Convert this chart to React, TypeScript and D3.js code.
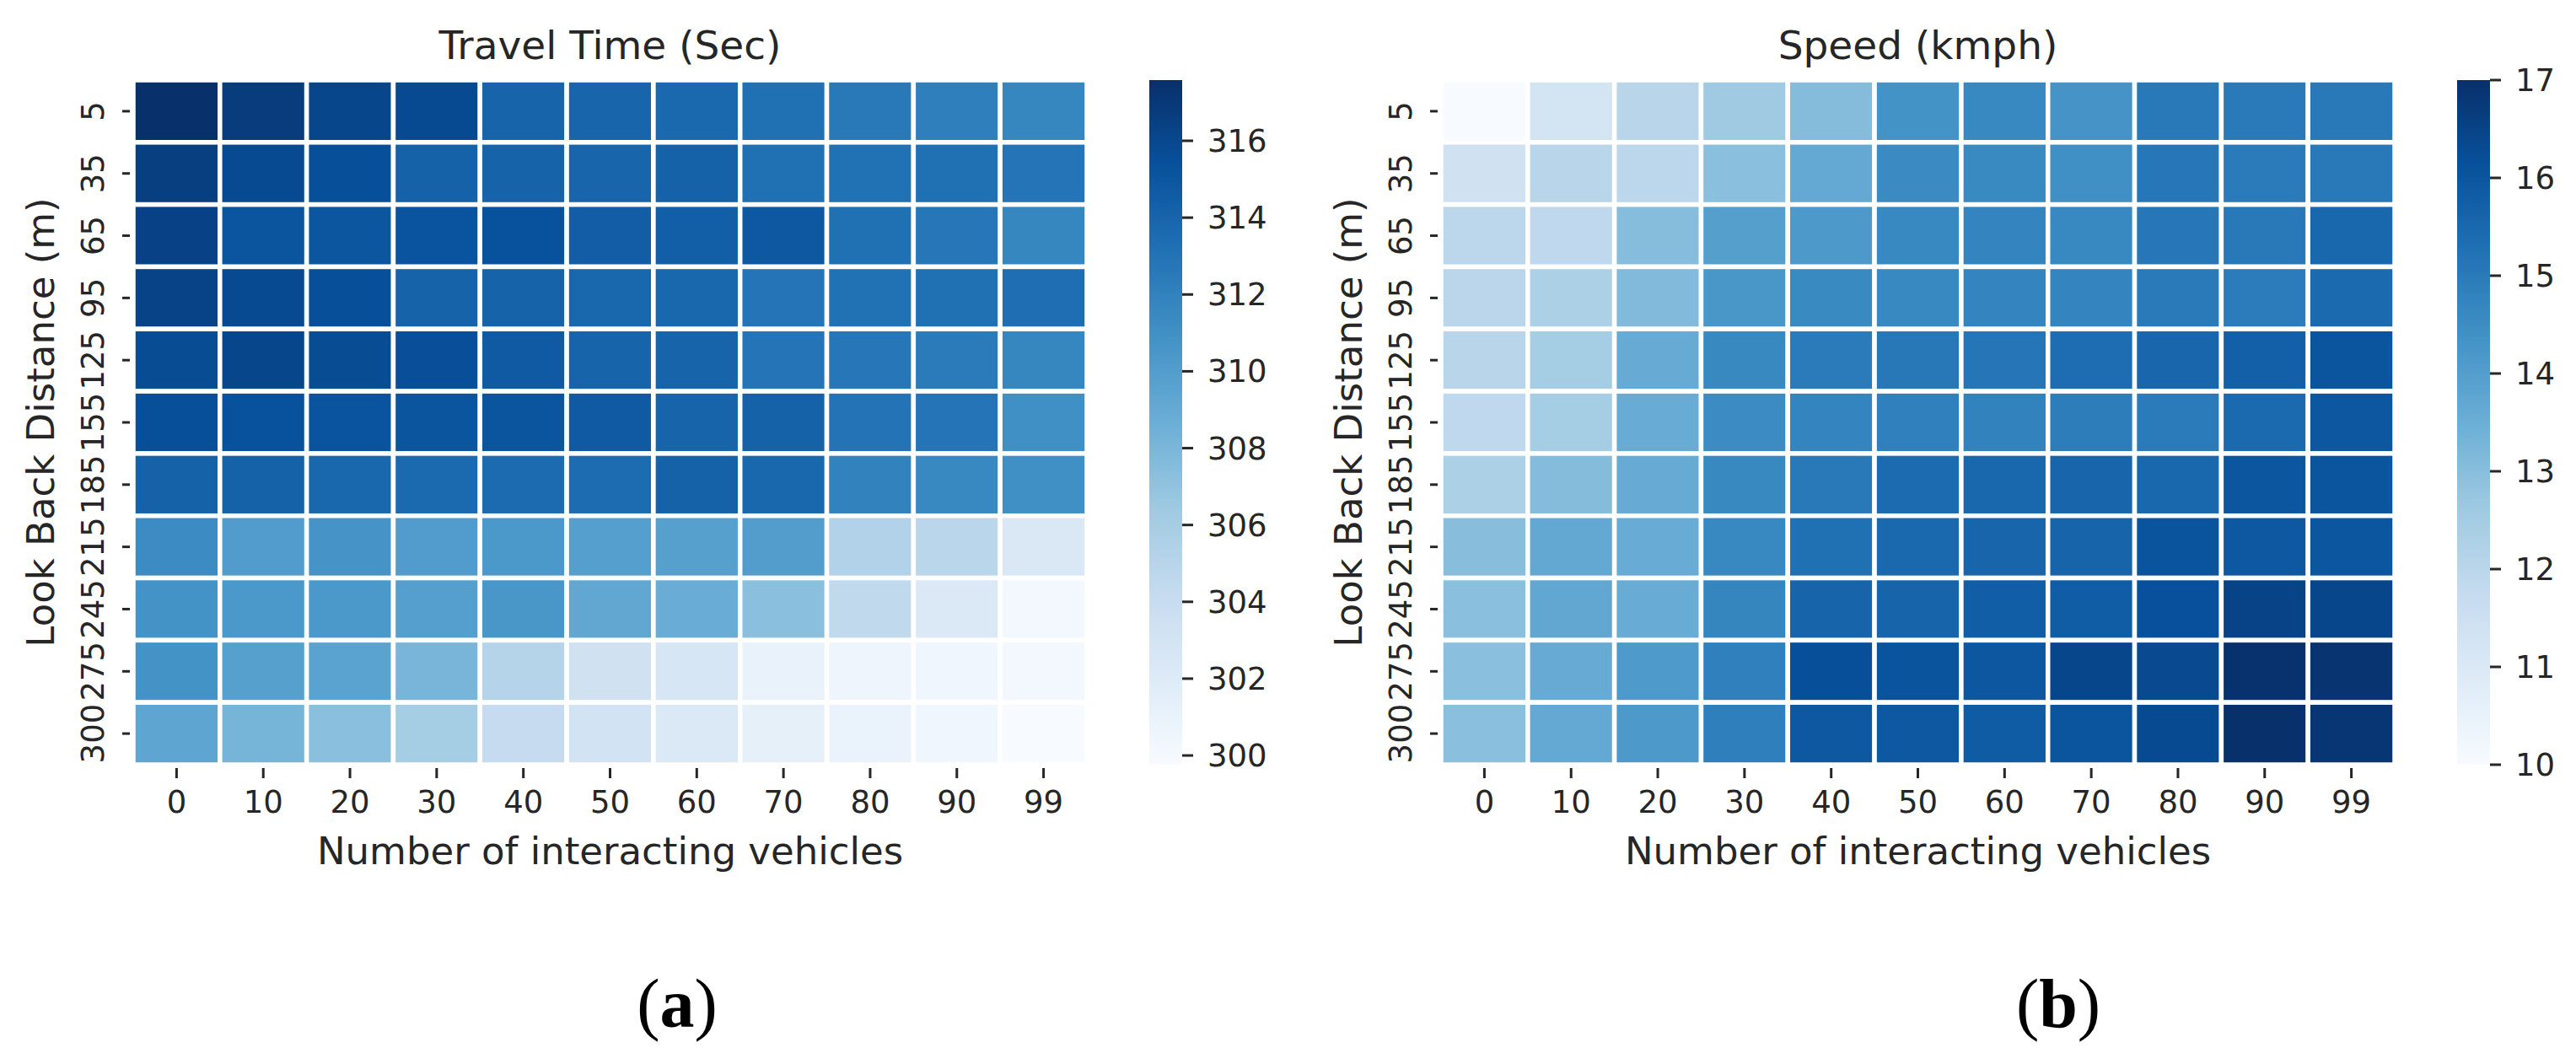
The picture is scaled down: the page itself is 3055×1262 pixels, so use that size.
import React, { useEffect } from 'react';
import * as d3 from 'd3';

// ---------- data ----------
const xCategories = ['0', '10', '20', '30', '40', '50', '60', '70', '80', '90', '99'];
const yCategories = ['5', '35', '65', '95', '125', '155', '185', '215', '245', '275', '300'];

// Travel time (sec), rows = look back distance (top to bottom), cols = interacting vehicles
const travelTime: number[][] = [
  [317.58, 316.8, 316.1, 315.8, 314.0, 313.95, 313.75, 313.2, 312.6, 312.2, 311.7],
  [316.6, 315.8, 315.5, 314.2, 314.1, 313.95, 314.2, 313.2, 313.1, 313.2, 312.9],
  [316.4, 315.1, 315.0, 315.2, 315.35, 314.5, 314.4, 314.9, 313.2, 312.7, 311.7],
  [316.3, 315.8, 315.5, 314.1, 314.1, 313.8, 313.8, 312.9, 313.1, 313.2, 313.3],
  [315.7, 316.1, 315.7, 315.55, 314.7, 314.0, 314.0, 312.9, 312.7, 312.45, 311.7],
  [315.5, 315.35, 315.2, 315.1, 315.1, 314.7, 314.0, 314.2, 313.0, 312.9, 311.0],
  [314.2, 314.2, 313.8, 313.7, 313.6, 313.5, 314.2, 313.8, 312.0, 311.6, 311.0],
  [311.3, 310.1, 310.7, 310.1, 310.4, 309.9, 309.8, 310.0, 305.4, 304.9, 302.4],
  [310.8, 310.4, 310.4, 309.9, 310.5, 309.2, 308.8, 307.3, 304.5, 302.3, 300.2],
  [310.8, 309.8, 309.6, 308.1, 305.1, 303.25, 302.7, 301.0, 300.6, 300.45, 300.2],
  [309.4, 308.2, 307.3, 306.05, 304.2, 303.1, 302.3, 301.3, 300.9, 300.45, 299.76],
];

// Speed (kmph)
const speed: number[][] = [
  [10.0, 11.26, 12.06, 12.6, 13.06, 14.35, 14.64, 14.3, 15.04, 15.0, 15.04],
  [11.4, 12.06, 11.96, 12.97, 13.66, 14.56, 14.6, 14.43, 15.1, 14.99, 15.04],
  [11.96, 11.9, 13.03, 13.97, 14.16, 14.64, 14.75, 14.65, 15.09, 15.04, 15.52],
  [12.0, 12.31, 13.12, 14.22, 14.59, 14.65, 14.75, 14.75, 15.0, 14.96, 15.46],
  [12.06, 12.47, 13.59, 14.61, 14.99, 15.07, 15.14, 15.36, 15.54, 15.72, 16.02],
  [11.9, 12.47, 13.56, 14.53, 14.75, 14.85, 14.8, 14.93, 14.99, 15.46, 15.96],
  [12.31, 13.06, 13.59, 14.61, 15.04, 15.41, 15.52, 15.57, 15.52, 15.99, 16.02],
  [13.0, 13.69, 13.56, 14.64, 15.28, 15.5, 15.57, 15.6, 16.05, 15.94, 15.99],
  [12.97, 13.72, 13.56, 14.72, 15.6, 15.6, 15.78, 15.81, 16.15, 16.5, 16.42],
  [12.97, 13.59, 14.12, 14.85, 16.18, 16.05, 15.96, 16.42, 16.34, 16.95, 16.87],
  [12.97, 13.66, 14.16, 14.88, 15.94, 15.93, 15.83, 16.02, 16.32, 17.0, 16.84],
];

const travelTicks = [300, 302, 304, 306, 308, 310, 312, 314, 316];
const speedTicks = [10, 11, 12, 13, 14, 15, 16, 17];

const BLUES = ['#f7fbff', '#deebf7', '#c6dbef', '#9ecae1', '#6baed6', '#4292c6', '#2171b5', '#08519c', '#08306b'];

// ---------- layout ----------
const W = 3055;
const H = 1262;
const TOP = 95;
const BOTTOM = 907;
const HM_W = 1131;
const FONT = "'DejaVu Sans', sans-serif";
const TXT = '#262626';

type PanelProps = {
  id: string;
  data: number[][];
  title: string;
  x0: number;
  ticks: number[];
};

function Panel({ id, data, title, x0, ticks }: PanelProps) {
  const x = d3.scaleBand<string>().domain(xCategories).range([x0, x0 + HM_W]).padding(0);
  const y = d3.scaleBand<string>().domain(yCategories).range([TOP, BOTTOM]).padding(0);
  const [vmin, vmax] = d3.extent(data.flat()) as [number, number];
  const stops = BLUES.map((_, i) => vmin + ((vmax - vmin) * i) / (BLUES.length - 1));
  const color = d3.scaleLinear<string>().domain(stops).range(BLUES).interpolate(d3.interpolateRgb);
  const cbX = x0 + 1205;
  const cbW = 39;
  const cb = d3.scaleLinear().domain([vmin, vmax]).range([BOTTOM, TOP]);
  const cx = x0 + HM_W / 2;
  const gradId = `grad-${id}`;

  return (
    <g>
      <defs>
        <linearGradient id={gradId} x1="0" y1="1" x2="0" y2="0">
          {BLUES.map((c, i) => (
            <stop key={i} offset={`${(i / (BLUES.length - 1)) * 100}%`} stopColor={c} />
          ))}
        </linearGradient>
      </defs>
      {/* title */}
      <text x={cx} y={70} textAnchor="middle" fontSize={47} fontFamily={FONT} fill={TXT}>
        {title}
      </text>
      {/* cells */}
      {data.map((row, ri) =>
        row.map((v, ci) => (
          <rect
            key={`${ri}-${ci}`}
            x={x(xCategories[ci])}
            y={y(yCategories[ri])}
            width={x.bandwidth()}
            height={y.bandwidth()}
            fill={color(v)}
            stroke="#ffffff"
            strokeWidth={5.5}
          />
        ))
      )}
      {/* y ticks */}
      {yCategories.map((c) => {
        const yc = (y(c) as number) + y.bandwidth() / 2;
        return (
          <g key={`yt-${c}`}>
            <line x1={x0 - 13} x2={x0 - 4} y1={yc} y2={yc} stroke={TXT} strokeWidth={3} />
            <text
              transform={`translate(${x0 - 35},${yc}) rotate(-90)`}
              textAnchor="middle"
              fontSize={37}
              fontFamily={FONT}
              fill={TXT}
            >
              {c}
            </text>
          </g>
        );
      })}
      {/* x ticks */}
      {xCategories.map((c) => {
        const xc = (x(c) as number) + x.bandwidth() / 2;
        return (
          <g key={`xt-${c}`}>
            <line x1={xc} x2={xc} y1={BOTTOM + 4} y2={BOTTOM + 16} stroke={TXT} strokeWidth={3} />
            <text x={xc} y={964} textAnchor="middle" fontSize={37} fontFamily={FONT} fill={TXT}>
              {c}
            </text>
          </g>
        );
      })}
      {/* axis titles */}
      <text x={cx} y={1025} textAnchor="middle" fontSize={45} fontFamily={FONT} fill={TXT}>
        Number of interacting vehicles
      </text>
      <text
        transform={`translate(${x0 - 94},${(TOP + BOTTOM) / 2}) rotate(-90)`}
        textAnchor="middle"
        fontSize={45}
        fontFamily={FONT}
        fill={TXT}
      >
        Look Back Distance (m)
      </text>
      {/* colorbar */}
      <rect x={cbX} y={TOP} width={cbW} height={BOTTOM - TOP} fill={`url(#${gradId})`} />
      {ticks.map((t) => (
        <g key={`cb-${t}`}>
          <line x1={cbX + cbW} x2={cbX + cbW + 13} y1={cb(t)} y2={cb(t)} stroke={TXT} strokeWidth={3} />
          <text x={cbX + cbW + 30} y={cb(t) + 13} fontSize={37} fontFamily={FONT} fill={TXT}>
            {t}
          </text>
        </g>
      ))}
    </g>
  );
}

export default function App() {
  useEffect(() => {
    document.body.style.margin = '0';
    document.body.style.overflow = 'hidden';
  }, []);
  return (
    <svg
      width={W}
      height={H}
      viewBox={`0 0 ${W} ${H}`}
      style={{ position: 'absolute', left: 0, top: 0, background: '#ffffff' }}
    >
      <rect x={0} y={0} width={W} height={H} fill="#ffffff" />
      <Panel id="a" data={travelTime} title="Travel Time (Sec)" x0={158} ticks={travelTicks} />
      <Panel id="b" data={speed} title="Speed (kmph)" x0={1709} ticks={speedTicks} />
      <text x={803} y={1218} textAnchor="middle" fontSize={82} fontFamily="'Liberation Serif', serif" fill="#000">
        (<tspan fontWeight="bold">a</tspan>)
      </text>
      <text x={2441} y={1218} textAnchor="middle" fontSize={82} fontFamily="'Liberation Serif', serif" fill="#000">
        (<tspan fontWeight="bold">b</tspan>)
      </text>
    </svg>
  );
}
